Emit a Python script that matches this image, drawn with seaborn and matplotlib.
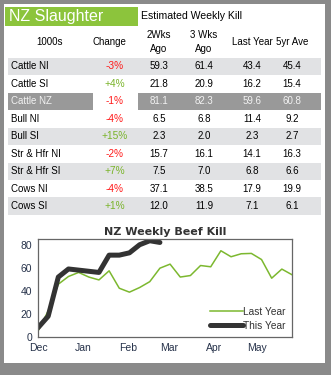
import matplotlib
matplotlib.use("Agg")
import matplotlib.pyplot as plt
import matplotlib.dates as mdates
from matplotlib.patches import Rectangle
import seaborn as sns
import pandas as pd

# ---------------- data ----------------
categories = ['Cattle NI', 'Cattle SI', 'Cattle NZ', 'Bull NI', 'Bull SI',
              'Str & Hfr NI', 'Str & Hfr SI', 'Cows NI', 'Cows SI']
change = ['-3%', '+4%', '-1%', '-4%', '+15%', '-2%', '+7%', '-4%', '+1%']
wks2_ago = [59.3, 21.8, 81.1, 6.5, 2.3, 15.7, 7.5, 37.1, 12.0]
wks3_ago = [61.4, 20.9, 82.3, 6.8, 2.0, 16.1, 7.0, 38.5, 11.9]
last_year_tbl = [43.4, 16.2, 59.6, 11.4, 2.3, 14.1, 6.8, 17.9, 7.1]
ave_5yr = [45.4, 15.4, 60.8, 9.2, 2.7, 16.3, 6.6, 19.9, 6.1]
col_headers = ['1000s', 'Change', '2Wks\nAgo', '3 Wks\nAgo', 'Last Year', '5yr Ave']

last_year_kill = [5, 22.6, 45.8, 52.5, 56, 52, 49.5, 57.4, 42.3, 38.9, 42.9, 48,
                  59.7, 63.2, 52, 53.3, 62, 60.9, 74.8, 69.6, 72.2, 72.5, 67.2,
                  51, 58.9, 54]
this_year_kill = [8, 18, 52, 59, 58, 57, 56, 71, 71, 73, 80, 83.5, 82]
start_date = '2012-12-01'

# ---------------- figure ----------------
W, H = 331, 375
fig = plt.figure(figsize=(W / 100, H / 100), dpi=100)
fig.patch.set_facecolor('#8a8a8a')


def fx(x):
    return x / W


def fy(y):
    return 1 - y / H


def rect(x0, y0, x1, y1, color):
    fig.add_artist(Rectangle((fx(x0), fy(y1)), fx(x1) - fx(x0), fy(y0) - fy(y1),
                             transform=fig.transFigure, facecolor=color,
                             edgecolor='none', zorder=0))


FONT = 'Liberation Sans'
GREEN = '#8cc43c'
RED = '#ff1a1a'
rect(4, 4, 325, 363, 'white')

# header
rect(5, 7, 138, 26, GREEN)
fig.text(fx(9), fy(17), 'NZ Slaughter', color='white', fontsize=11.5,
         family=FONT, va='center', ha='left')
fig.text(fx(141), fy(16), 'Estimated Weekly Kill', color='black', fontsize=7.6,
         family=FONT, va='center', ha='left')

# column headers
col_x = [50, 109, 159, 204, 252, 292]
for cx, h in zip(col_x, col_headers):
    fig.text(fx(cx), fy(42), h, fontsize=7, family=FONT, ha='center',
             va='center', linespacing=1.5)

row_top0, row_h = 57.5, 17.5
data_x = [159, 204, 252, 292]
for i, cat in enumerate(categories):
    top = row_top0 + i * row_h
    cy = top + row_h / 2
    txtc = 'black'
    if i == 2:
        rect(8, top, 92.7, top + row_h, '#999999')
        rect(138, top, 321, top + row_h, '#999999')
        txtc = '#f2f2f2'
    elif i % 2 == 0:
        rect(8, top, 321, top + row_h, '#e1e2e4')
    fig.text(fx(11), fy(cy), cat, fontsize=7, family=FONT, ha='left',
             va='center', color=txtc)
    ch = change[i]
    fig.text(fx(114.5), fy(cy), ch, fontsize=7.3, family=FONT, ha='center',
             va='center', color=RED if ch.startswith('-') else '#7ab42a')
    for dx, arr in zip(data_x, [wks2_ago, wks3_ago, last_year_tbl, ave_5yr]):
        fig.text(fx(dx), fy(cy), f'{arr[i]:.1f}', fontsize=7, family=FONT,
                 ha='center', va='center', color=txtc)

# ---------------- chart ----------------
dates_ly = pd.date_range(start_date, periods=len(last_year_kill), freq='7D')
dates_ty = dates_ly[:len(this_year_kill)]
df_ly = pd.DataFrame({'date': dates_ly, 'kill': last_year_kill})
df_ty = pd.DataFrame({'date': dates_ty, 'kill': this_year_kill})

ax = fig.add_axes([fx(38), fy(337), fx(292) - fx(38), fy(239) - fy(337)])
sns.lineplot(data=df_ly, x='date', y='kill', ax=ax, color='#7cb82f',
             linewidth=1.1, label='Last Year')
sns.lineplot(data=df_ty, x='date', y='kill', ax=ax, color='#333333',
             linewidth=3.6, label='This Year', solid_capstyle='round')
ax.set_xlim(dates_ly[0], dates_ly[-1])
ax.set_ylim(0, 85)
ax.set_yticks([0, 20, 40, 60, 80])
ax.xaxis.set_major_locator(mdates.MonthLocator())
ax.xaxis.set_major_formatter(mdates.DateFormatter('%b'))
ax.set_xlabel('')
ax.set_ylabel('')
TICKC = '#26324a'
ax.tick_params(axis='both', length=0, labelsize=7.5, labelcolor=TICKC, pad=4)
for lbl in ax.get_xticklabels() + ax.get_yticklabels():
    lbl.set_family(FONT)
for s in ax.spines.values():
    s.set_color('#666666')
    s.set_linewidth(0.9)
ax.set_facecolor('white')
ax.set_title('NZ Weekly Beef Kill', fontsize=8, fontweight='bold',
             color='#333333', pad=3, family='DejaVu Sans')
leg = ax.legend(loc='lower right', frameon=False, fontsize=7.3,
                handlelength=3.3, handletextpad=0.0, borderaxespad=0.2,
                labelspacing=0.4, prop={'family': FONT, 'size': 7.3})
for t in leg.get_texts():
    t.set_color('#333333')

fig.savefig('out.png', dpi=100, facecolor=fig.get_facecolor())
